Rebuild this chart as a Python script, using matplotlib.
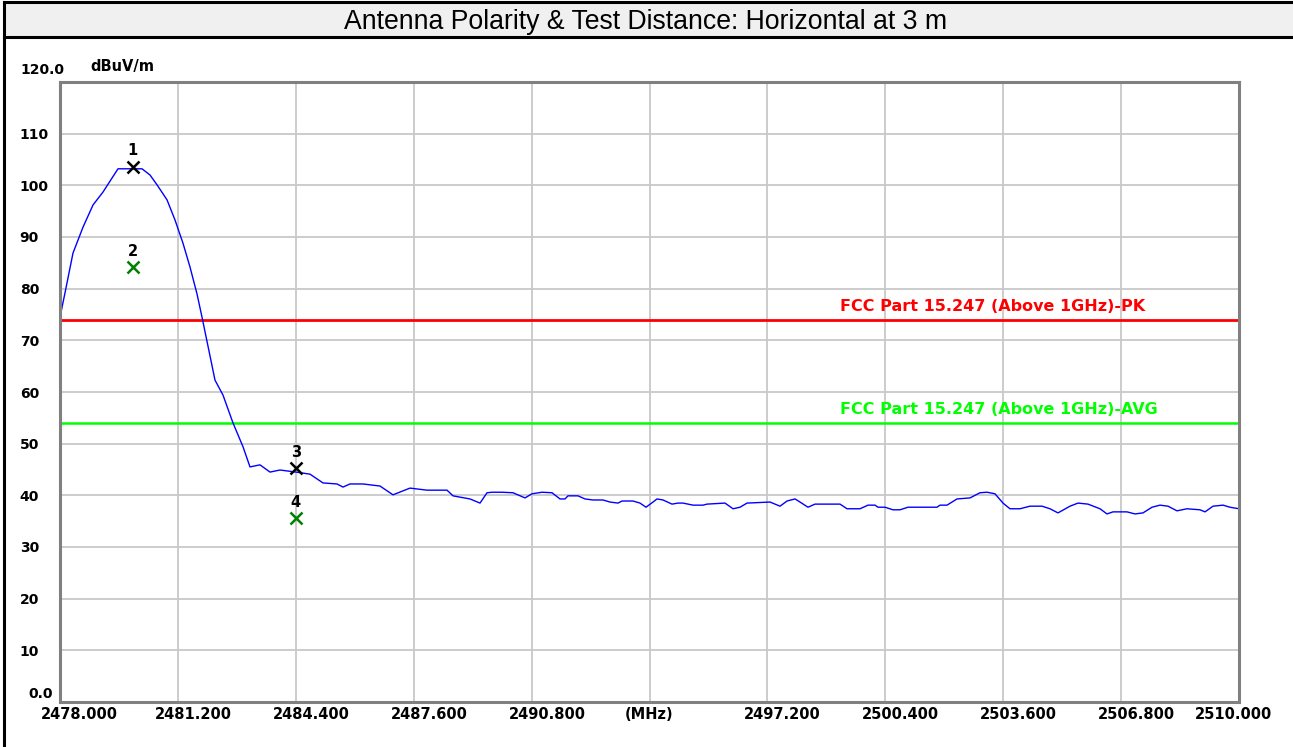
import numpy as np
import matplotlib.pyplot as plt
from matplotlib.patches import Rectangle
from matplotlib.lines import Line2D
import matplotlib.transforms as mtransforms

# trace (MHz, dBuV/m)
freq = [2478.000, 2478.136, 2478.353, 2478.624, 2478.896, 2479.167, 2479.411, 2479.574,
        2480.226, 2480.443, 2480.633, 2480.904, 2481.121, 2481.338, 2481.528, 2481.718,
        2481.854, 2482.207, 2482.424, 2482.696, 2482.967, 2483.157,
        2483.428, 2483.700, 2483.971, 2484.405, 2484.785, 2485.138, 2485.518, 2485.681,
        2485.871, 2486.224, 2486.685, 2487.038, 2487.500, 2487.961, 2488.504, 2488.667,
        2489.128, 2489.400, 2489.590, 2489.725, 2489.997, 2490.295, 2490.621, 2490.811,
        2491.083, 2491.354, 2491.571, 2491.707, 2491.788, 2492.060, 2492.250, 2492.467,
        2492.738, 2492.928, 2493.145, 2493.254, 2493.552, 2493.742, 2493.905, 2494.095,
        2494.204, 2494.367, 2494.611, 2494.774, 2494.910, 2495.181, 2495.453, 2495.561,
        2496.050, 2496.267, 2496.457, 2496.647, 2497.271, 2497.543, 2497.733, 2497.950,
        2498.085, 2498.302, 2498.492, 2499.171, 2499.361, 2499.714, 2499.931, 2500.121,
        2500.202, 2500.392, 2500.609, 2500.799, 2501.016, 2501.803, 2501.885, 2502.075,
        2502.346, 2502.699, 2502.970, 2503.160, 2503.377, 2503.594, 2503.784, 2504.056,
        2504.327, 2504.653, 2504.870, 2505.087, 2505.413, 2505.630, 2505.901, 2506.227,
        2506.417, 2506.580, 2506.960, 2507.177, 2507.394, 2507.639, 2507.856, 2508.073,
        2508.317, 2508.589, 2508.942, 2509.078, 2509.295, 2509.566, 2509.756, 2510.000]
level = [74.5, 79.2, 86.9, 91.9, 96.2, 98.7, 101.4, 103.2,
         103.2, 102.0, 100.1, 97.2, 93.3, 88.8, 84.2, 79.0,
         74.5, 62.3, 59.4, 54.0, 49.4, 45.5,
         45.9, 44.5, 44.9, 44.5, 44.1, 42.4, 42.2, 41.6,
         42.2, 42.2, 41.8, 40.1, 41.4, 41.0, 41.0, 39.9,
         39.3, 38.5, 40.5, 40.6, 40.6, 40.5, 39.5, 40.3,
         40.6, 40.5, 39.3, 39.3, 39.9, 39.9, 39.3, 39.1,
         39.1, 38.7, 38.5, 38.9, 38.9, 38.5, 37.7, 38.7,
         39.3, 39.1, 38.3, 38.5, 38.5, 38.1, 38.1, 38.3,
         38.5, 37.4, 37.7, 38.5, 38.7, 37.9, 38.9, 39.3,
         38.7, 37.7, 38.3, 38.3, 37.4, 37.4, 38.1, 38.1,
         37.7, 37.7, 37.2, 37.2, 37.7, 37.7, 38.1, 38.1,
         39.3, 39.5, 40.5, 40.6, 40.3, 38.5, 37.4, 37.4,
         37.9, 37.9, 37.4, 36.6, 37.9, 38.5, 38.3, 37.4,
         36.4, 36.8, 36.8, 36.4, 36.6, 37.7, 38.1, 37.9,
         37.0, 37.4, 37.2, 36.8, 37.9, 38.1, 37.7, 37.4]

marker_ids = ['1', '2', '3', '4']
marker_freq = [2479.97, 2479.97, 2484.40, 2484.40]
marker_level = [103.6, 84.2, 45.3, 35.6]
marker_colors = ['black', '#008000', 'black', '#008000']

limit_pk = 74.0
limit_avg = 54.0
limit_pk_label = 'FCC Part 15.247 (Above 1GHz)-PK'
limit_avg_label = 'FCC Part 15.247 (Above 1GHz)-AVG'
limit_label_freq = 2499.17

xticks = [2478.0, 2481.2, 2484.4, 2487.6, 2490.8, 2494.0, 2497.2, 2500.4, 2503.6, 2506.8, 2510.0]
xtick_labels = ['2478.000', '2481.200', '2484.400', '2487.600', '2490.800', '(MHz)',
                '2497.200', '2500.400', '2503.600', '2506.800', '2510.000']
yticks = [10, 20, 30, 40, 50, 60, 70, 80, 90, 100, 110]
title = 'Antenna Polarity & Test Distance: Horizontal at 3 m'

W, H = 1293, 747
fig = plt.figure(figsize=(W / 100, H / 100), dpi=100)

# title bar
fig.add_artist(Rectangle((4 / W, 1 - 37 / H), 1, 35 / H, transform=fig.transFigure,
                         facecolor='#f0f0f0', edgecolor='none'))
for yy in [1 - 2.0 / H, 1 - 36.5 / H]:
    fig.add_artist(Line2D([4 / W, 1], [yy, yy], transform=fig.transFigure, color='black', lw=2.2))
fig.add_artist(Line2D([4 / W, 4 / W], [0, 1 - 2.0 / H], transform=fig.transFigure, color='black', lw=2.2))
fig.text(646 / W, 1 - 22 / H, title, ha='center', va='center',
         fontsize=19.2, family='Liberation Sans')

ax = fig.add_axes([60 / W, 45 / H, (1239 - 60) / W, (702 - 82) / H])
ax.set_xlim(2478, 2510)
ax.set_ylim(0, 120)

ax.grid(True, color='#c8c8c8', lw=1.3)
ax.set_axisbelow(True)
for s in ax.spines.values():
    s.set_color('#808080')
    s.set_linewidth(2.2)

ax.axhline(limit_pk, color='#ff0000', lw=2.0)
ax.axhline(limit_avg, color='#00ff00', lw=1.8)
ax.plot(freq, level, color='#0000ff', lw=1.0)

for mid, mf, ml, mc in zip(marker_ids, marker_freq, marker_level, marker_colors):
    ax.plot(mf, ml, marker='x', color=mc, ms=8, mew=1.8, ls='none')
    ax.annotate(mid, (mf, ml), xytext=(0, 6), textcoords='offset points', ha='center',
                va='bottom', fontsize=10.5, fontweight='bold', color='black')

ax.annotate(limit_pk_label, (limit_label_freq, limit_pk), xytext=(0, 4), textcoords='offset points',
            ha='left', va='bottom', fontsize=11.5, fontweight='bold', color='#ff0000')
ax.annotate(limit_avg_label, (limit_label_freq, limit_avg), xytext=(0, 4), textcoords='offset points',
            ha='left', va='bottom', fontsize=11.5, fontweight='bold', color='#00ff00')

# y tick labels, left aligned as in the analyzer software
ax.set_yticks(yticks)
ax.set_yticklabels([str(v) for v in yticks], fontsize=10, fontweight='bold', ha='left')
ax.tick_params(axis='y', length=0, pad=29)
trans_y = mtransforms.blended_transform_factory(ax.transAxes, ax.transData)
ax.annotate('120.0', (0, 120), xycoords=trans_y, xytext=(3, 9), textcoords='offset points',
            ha='right', va='center', fontsize=10, fontweight='bold')
ax.annotate('dBuV/m', (0, 120), xycoords=trans_y, xytext=(22, 11), textcoords='offset points',
            ha='left', va='center', fontsize=10.5, fontweight='bold')
ax.annotate('0.0', (0, 0), xycoords=trans_y, xytext=(-5, 6), textcoords='offset points',
            ha='right', va='center', fontsize=10, fontweight='bold')

# x tick labels
ax.set_xticks(xticks)
ax.set_xticklabels([])
ax.tick_params(axis='x', length=0)
trans_x = mtransforms.blended_transform_factory(ax.transData, ax.transAxes)
for i, (xt, lab) in enumerate(zip(xticks, xtick_labels)):
    dx = 11
    if i == 0:
        dx = 14
    elif i == len(xticks) - 1:
        dx = -4
    elif lab == '(MHz)':
        dx = 0
    ax.annotate(lab, (xt, 0), xycoords=trans_x, xytext=(dx, -9), textcoords='offset points',
                ha='center', va='center', fontsize=10.5, fontweight='bold')

fig.savefig('out.png', dpi=100)
